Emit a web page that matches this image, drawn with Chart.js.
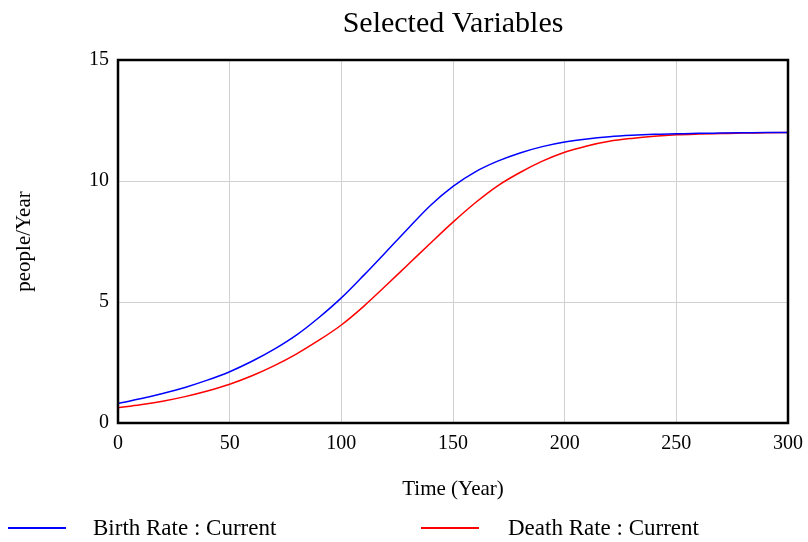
<!DOCTYPE html>
<html>
<head>
<meta charset="utf-8">
<script src="https://cdn.jsdelivr.net/npm/chart.js@4/dist/chart.umd.min.js"></script>
<style>
  body { margin: 0; background: #fff; }
</style>
</head>
<body>
<canvas id="chart" width="808" height="542"></canvas>
<script>
// values, every 10 years
const years = [0, 10, 20, 30, 40, 50, 60, 70, 80, 90, 100, 110, 120, 130, 140, 150,
               160, 170, 180, 190, 200, 210, 220, 230, 240, 250, 260, 270, 280, 290, 300];
const birthRate = [0.81, 1.00, 1.22, 1.47, 1.77, 2.12, 2.55, 3.05, 3.64, 4.36, 5.17, 6.10, 7.07, 8.05, 9.00, 9.78,
                   10.38, 10.82, 11.16, 11.42, 11.61, 11.74, 11.83, 11.89, 11.93, 11.95, 11.97, 11.98, 11.99, 12.0, 12.0];
const deathRate = [0.63, 0.75, 0.90, 1.09, 1.32, 1.60, 1.95, 2.37, 2.86, 3.42, 4.05, 4.82, 5.68, 6.56, 7.44, 8.30,
                   9.10, 9.80, 10.35, 10.82, 11.19, 11.45, 11.64, 11.76, 11.85, 11.91, 11.94, 11.96, 11.98, 11.99, 12.0];
const seriesNames = ['Birth Rate : Current', 'Death Rate : Current'];
const xTicks = [0, 50, 100, 150, 200, 250, 300];
const yTicks = [0, 5, 10, 15];

const serif = 'Liberation Serif, Times New Roman, serif';

// frame round the plot area
const frame = {
    id: 'frame',
    afterDatasetsDraw(chart) {
        const a = chart.chartArea;
        const ctx = chart.ctx;
        ctx.save();
        ctx.strokeStyle = '#000';
        ctx.lineWidth = 2.5;
        ctx.strokeRect(a.left, a.top, a.right - a.left, a.bottom - a.top);
        ctx.restore();
    }
};

// centre the title over the plot area rather than the canvas
const titleOverPlot = {
    id: 'titleOverPlot',
    afterLayout(chart) {
        if (chart.titleBlock) {
            chart.titleBlock.left = chart.chartArea.left;
            chart.titleBlock.right = chart.chartArea.right;
        }
    }
};

// legend under the axis title: line sample then label
const bottomLegend = {
    id: 'bottomLegend',
    afterDraw(chart) {
        const ctx = chart.ctx;
        const y = 528;
        const spots = [[8, 93], [421, 508]];
        ctx.save();
        ctx.font = '23px ' + serif;
        ctx.textBaseline = 'middle';
        ctx.fillStyle = '#000';
        chart.data.datasets.forEach((ds, i) => {
            const [lx, tx] = spots[i];
            ctx.strokeStyle = ds.borderColor;
            ctx.lineWidth = 2;
            ctx.beginPath();
            ctx.moveTo(lx, y);
            ctx.lineTo(lx + 58, y);
            ctx.stroke();
            ctx.fillText(ds.label, tx, y + 1);
        });
        ctx.restore();
    }
};

new Chart(document.getElementById('chart'), {
    type: 'line',
    data: {
        datasets: [
            {
                label: seriesNames[0],
                data: years.map((t, i) => ({ x: t, y: birthRate[i] })),
                borderColor: '#0000ff',
                borderWidth: 1.5,
                pointRadius: 0,
                cubicInterpolationMode: 'monotone',
            },
            {
                label: seriesNames[1],
                data: years.map((t, i) => ({ x: t, y: deathRate[i] })),
                borderColor: '#ff0000',
                borderWidth: 1.5,
                pointRadius: 0,
                cubicInterpolationMode: 'monotone',
            },
        ],
    },
    options: {
        responsive: false,
        animation: false,
        layout: { padding: { left: 0, right: 20, top: 0, bottom: 37 } },
        plugins: {
            legend: { display: false },
            tooltip: { enabled: false },
            title: {
                display: true,
                text: 'Selected Variables',
                color: '#000',
                font: { family: serif, size: 30, weight: 'normal' },
                padding: { top: 6, bottom: 18 },
            },
        },
        scales: {
            x: {
                type: 'linear',
                min: 0,
                max: 300,
                afterBuildTicks: s => { s.ticks = xTicks.map(v => ({ value: v })); },
                afterFit: s => { s.height = 82; s.paddingLeft = 0; s.paddingRight = 0; },
                grid: { color: '#d0d0d0', lineWidth: 1, drawTicks: false },
                border: { display: false },
                ticks: { color: '#000', padding: 9, maxRotation: 0, font: { family: serif, size: 20 } },
                title: {
                    display: true,
                    text: 'Time (Year)',
                    color: '#000',
                    font: { family: serif, size: 21 },
                    padding: { top: 0, bottom: 3 },
                },
            },
            y: {
                min: 0,
                max: 15,
                afterBuildTicks: s => { s.ticks = yTicks.map(v => ({ value: v })); },
                afterFit: s => { s.width = 118; },
                grid: { color: '#d0d0d0', lineWidth: 1, drawTicks: false },
                border: { display: false },
                ticks: { color: '#000', padding: 9, font: { family: serif, size: 20 } },
                title: {
                    display: true,
                    text: 'people/Year',
                    color: '#000',
                    font: { family: serif, size: 21 },
                    padding: { top: 12, bottom: 0 },
                },
            },
        },
    },
    plugins: [frame, titleOverPlot, bottomLegend],
});
</script>
</body>
</html>
